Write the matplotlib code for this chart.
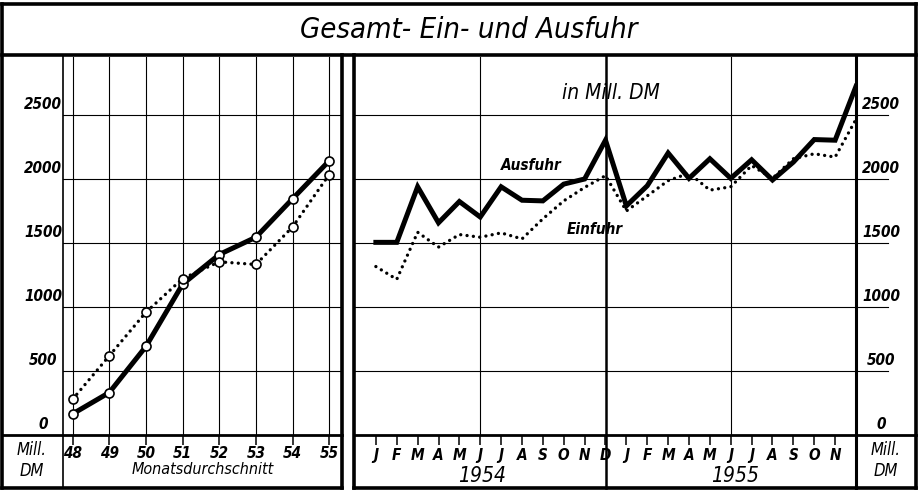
import numpy as np
import matplotlib.pyplot as plt
from matplotlib.lines import Line2D
from matplotlib.transforms import blended_transform_factory

# -----------------------------
# Data (Mill. DM)
# -----------------------------
years = [48, 49, 50, 51, 52, 53, 54, 55]
export_year = [165, 332, 692, 1178, 1410, 1545, 1845, 2142]
import_year = [280, 619, 959, 1222, 1353, 1332, 1625, 2035]

month_labels = ["J", "F", "M", "A", "M", "J", "J", "A", "S", "O", "N", "D",
                "J", "F", "M", "A", "M", "J", "J", "A", "S", "O", "N"]
export_month = [1505, 1505, 1939, 1658, 1824, 1703, 1939, 1834, 1829, 1960, 2000, 2303,
                1790, 1947, 2203, 2005, 2158, 2005, 2150, 1992, 2132, 2308, 2303, 2724]
import_month = [1316, 1216, 1584, 1468, 1566, 1545, 1579, 1532, 1689, 1829, 1934, 2026,
                1750, 1868, 1987, 2045, 1913, 1939, 2105, 2005, 2158, 2197, 2171, 2466]
y_ticks = [0, 500, 1000, 1500, 2000, 2500]

W, H = 918, 490
FONT = dict(family="DejaVu Sans", style="italic", stretch="condensed")
DOTS = (0, (0.01, 1.9))

fig = plt.figure(figsize=(W / 100, H / 100), dpi=100)


def fx(px):
    return px / W


def fy(py):
    return 1 - py / H


def fline(x0, y0, x1, y1, lw):
    fig.add_artist(Line2D([fx(x0), fx(x1)], [fy(y0), fy(y1)], transform=fig.transFigure,
                          color="black", lw=lw, solid_capstyle="projecting"))


# -----------------------------
# Frames
# -----------------------------
fline(2, 4, 916, 4, 2.6)
fline(2, 4, 2, 488, 2.6)
fline(916, 4, 916, 488, 2.6)
fline(2, 55, 916, 55, 2.6)
fline(2, 488, 342, 488, 2.6)
fline(354, 488, 916, 488, 2.6)
fline(342, 55, 342, 488, 2.6)
fline(354, 55, 354, 488, 2.6)
fline(2, 435, 342, 435, 2.0)
fline(354, 435, 916, 435, 2.0)
fline(63, 55, 63, 488, 1.2)
fline(856, 55, 856, 488, 2.2)
fline(606, 55, 606, 488, 1.8)

fig.text(fx(469), fy(30), "Gesamt- Ein- und Ausfuhr", fontsize=21, ha="center", va="center", **FONT)

# -----------------------------
# Left panel: yearly monthly averages
# -----------------------------
axL = fig.add_axes([fx(63), fy(435), (342 - 63) / W, (435 - 57) / H])
axL.set_xlim(47.736, 55.35)
axL.set_ylim(0, 2953)
for s in axL.spines.values():
    s.set_visible(False)
axL.patch.set_alpha(0)
for y in y_ticks[1:]:
    axL.axhline(y, color="black", lw=0.8, xmin=-0.01)
for x in years:
    axL.axvline(x, color="black", lw=0.8)
axL.plot(years, export_year, color="black", lw=3.6, solid_joinstyle="round", zorder=3)
axL.plot(years, import_year, color="black", lw=2.4, linestyle=DOTS,
         dash_capstyle="round", zorder=3)
axL.plot(years, export_year, "o", ms=6.5, mfc="white", mec="black", mew=1.2, zorder=4)
axL.plot(years, import_year, "o", ms=6.5, mfc="white", mec="black", mew=1.2, zorder=4)
axL.set_xticks(years)
axL.set_xticklabels([str(v) for v in years], fontsize=11, fontweight="bold", **FONT)
axL.tick_params(axis="x", bottom=True, direction="out", length=7, width=1.1, color="black", pad=1)
axL.set_yticks([])
tL = blended_transform_factory(axL.transAxes, axL.transData)
for y in y_ticks:
    axL.text(-0.072, y + 25, str(y), transform=tL, ha="center", va="bottom", fontsize=11,
             fontweight="bold", **FONT)
axL.text(0.5, -0.09, "Monatsdurchschnitt", transform=axL.transAxes, ha="center", va="center",
         fontsize=11.5, **FONT)
fig.text(fx(32), fy(450), "Mill.", ha="center", va="center", fontsize=12, **FONT)
fig.text(fx(32), fy(471), "DM", ha="center", va="center", fontsize=12, **FONT)

# -----------------------------
# Right panel: months 1954-1955
# -----------------------------
months = np.arange(len(export_month))
axR = fig.add_axes([fx(355), fy(435), (856 - 355) / W, (435 - 57) / H])
axR.set_xlim(-1, 23)
axR.set_ylim(0, 2953)
for s in axR.spines.values():
    s.set_visible(False)
axR.patch.set_alpha(0)
for y in y_ticks[1:]:
    axR.axhline(y, color="black", lw=0.8, xmax=(888 - 355) / (856 - 355), clip_on=False)
for x in [5, 17]:
    axR.axvline(x, color="black", lw=0.8)
axR.plot(months, export_month, color="black", lw=3.6, solid_joinstyle="miter", zorder=3)
axR.plot(months, import_month, color="black", lw=2.4, linestyle=DOTS,
         dash_capstyle="round", zorder=3)
axR.set_xticks(months[:-1])
axR.set_xticklabels(month_labels, fontsize=11, fontweight="bold", **FONT)
axR.tick_params(axis="x", bottom=True, direction="out", length=7, width=1.1, color="black", pad=2)
axR.set_yticks([])
tR = blended_transform_factory(axR.transAxes, axR.transData)
for y in y_ticks:
    axR.text((881 - 355) / (856 - 355), y + 25, str(y), transform=tR, ha="center", va="bottom",
             fontsize=11, fontweight="bold", **FONT)
tRx = blended_transform_factory(axR.transData, axR.transAxes)
axR.text(5.1, -0.108, "1954", transform=tRx, ha="center", va="center", fontsize=15, **FONT)
axR.text(17.2, -0.108, "1955", transform=tRx, ha="center", va="center", fontsize=15, **FONT)
axR.text(11.26, 2672, "in Mill. DM", ha="center", va="center", fontsize=15, **FONT)
axR.text(7.43, 2102, "Ausfuhr", ha="center", va="center", fontsize=11, fontweight="bold", **FONT)
axR.text(10.5, 1602, "Einfuhr", ha="center", va="center", fontsize=11, fontweight="bold", **FONT)
fig.text(fx(886), fy(450), "Mill.", ha="center", va="center", fontsize=12, **FONT)
fig.text(fx(886), fy(471), "DM", ha="center", va="center", fontsize=12, **FONT)

fig.savefig("out.png", dpi=100, facecolor="white")
